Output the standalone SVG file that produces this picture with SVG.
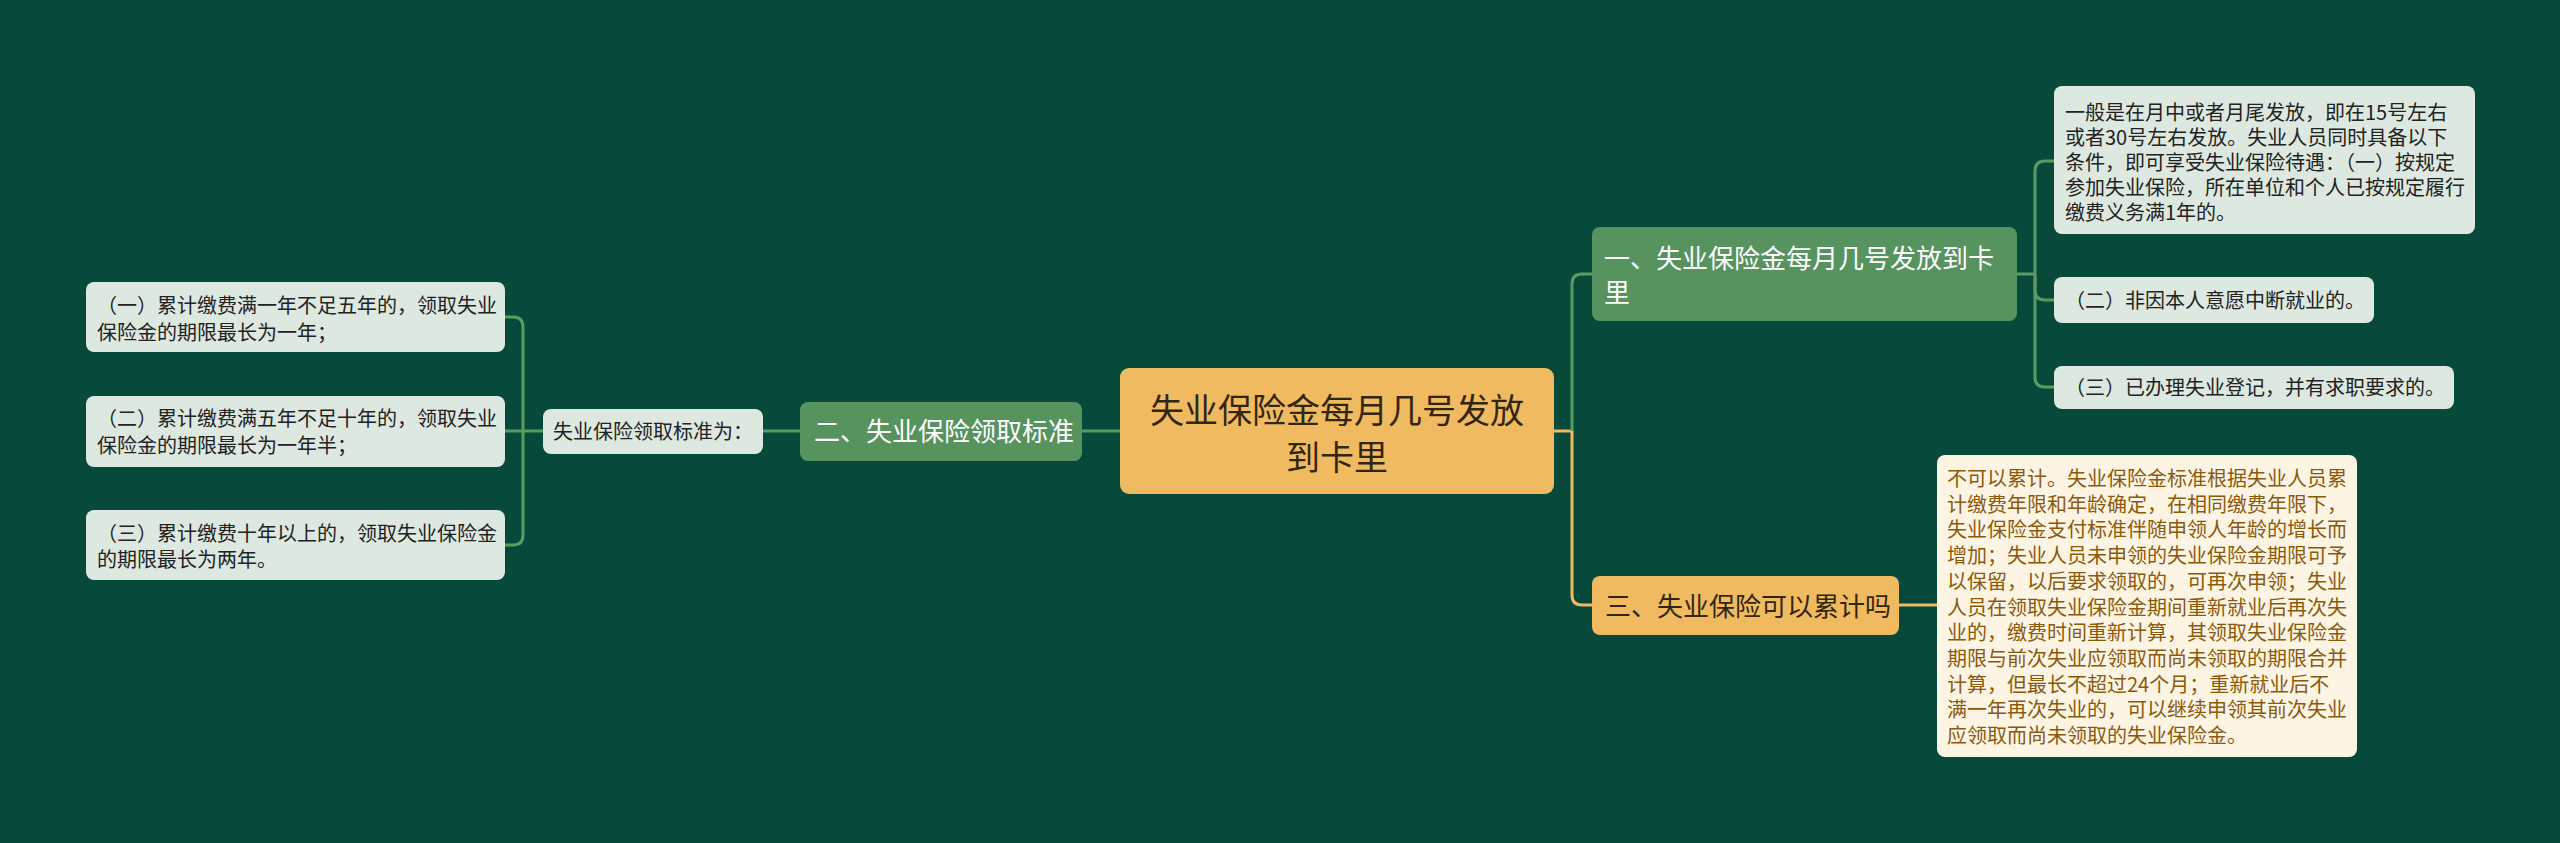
<svg xmlns="http://www.w3.org/2000/svg" width="2560" height="843" viewBox="0 0 2560 843">
<style>
text{font-family:"Noto Sans CJK SC","Noto Sans",sans-serif;}
.g{fill:none;stroke:#5A9A63;stroke-width:3;}
.y{fill:none;stroke:#F0BA61;stroke-width:3;}
.root{fill:#F0BA61;}
.gn{fill:#57935F;}
.yn{fill:#F0BA61;}
.lf{fill:#DDE9E0;}
.cr{fill:#FEF4E4;}
.tr{font-size:34px;fill:#33260f;text-anchor:middle;}
.tg{font-size:26px;fill:#ffffff;}
.ty{font-size:26px;fill:#33260f;}
.tl{font-size:20px;fill:#222222;}
.tc{font-size:20px;fill:#8A5A0C;}
</style>
<rect width="2560" height="843" fill="#07493A"/>
<g id="connectors">
<path class="y" d="M1554 431 H1572 V595 Q1572 605 1582 605 H1592"/>
<path class="g" d="M1572 431 V284 Q1572 274 1582 274 H1592"/>
<path class="y" d="M1899 605 H1937"/>
<path class="g" d="M2017 274 H2035"/>
<path class="g" d="M2035 274 V171 Q2035 161 2045 161 H2054"/>
<path class="g" d="M2035 274 V290 Q2035 300 2045 300 H2054"/>
<path class="g" d="M2035 274 V377 Q2035 387 2045 387 H2054"/>
<path class="g" d="M1120 431 H1082"/>
<path class="g" d="M800 431 H763"/>
<path class="g" d="M543 431 H505"/>
<path class="g" d="M523 431 V327 Q523 317 513 317 H505"/>
<path class="g" d="M523 431 V535 Q523 545 513 545 H505"/>
</g>
<g id="root">
<rect class="root" x="1120" y="368" width="434" height="126" rx="9"/>
<text class="tr" x="1337" y="423">失业保险金每月几号发放</text>
<text class="tr" x="1337" y="470">到卡里</text>
</g>
<g id="n1">
<rect class="gn" x="1592" y="227" width="425" height="94" rx="8"/>
<text class="tg" x="1604" y="268">一、失业保险金每月几号发放到卡</text>
<text class="tg" x="1604" y="302">里</text>
</g>
<g id="n1a">
<rect class="lf" x="2054" y="86" width="421" height="148" rx="8"/>
<text class="tl" x="2065" y="120">一般是在月中或者月尾发放，即在15号左右</text>
<text class="tl" x="2065" y="145">或者30号左右发放。失业人员同时具备以下</text>
<text class="tl" x="2065" y="170">条件，即可享受失业保险待遇：（一）按规定</text>
<text class="tl" x="2065" y="195">参加失业保险，所在单位和个人已按规定履行</text>
<text class="tl" x="2065" y="220">缴费义务满1年的。</text>
</g>
<g id="n1b">
<rect class="lf" x="2054" y="277" width="320" height="46" rx="8"/>
<text class="tl" x="2065" y="308">（二）非因本人意愿中断就业的。</text>
</g>
<g id="n1c">
<rect class="lf" x="2054" y="366" width="400" height="43" rx="8"/>
<text class="tl" x="2065" y="395">（三）已办理失业登记，并有求职要求的。</text>
</g>
<g id="n3">
<rect class="yn" x="1592" y="576" width="307" height="59" rx="8"/>
<text class="ty" x="1605" y="616">三、失业保险可以累计吗</text>
</g>
<g id="n3a">
<rect class="cr" x="1937" y="455" width="420" height="302" rx="8"/>
<text class="tc" x="1947" y="486">不可以累计。失业保险金标准根据失业人员累</text>
<text class="tc" x="1947" y="511.7">计缴费年限和年龄确定，在相同缴费年限下，</text>
<text class="tc" x="1947" y="537.4">失业保险金支付标准伴随申领人年龄的增长而</text>
<text class="tc" x="1947" y="563.1">增加；失业人员未申领的失业保险金期限可予</text>
<text class="tc" x="1947" y="588.8">以保留，以后要求领取的，可再次申领；失业</text>
<text class="tc" x="1947" y="614.5">人员在领取失业保险金期间重新就业后再次失</text>
<text class="tc" x="1947" y="640.2">业的，缴费时间重新计算，其领取失业保险金</text>
<text class="tc" x="1947" y="665.9">期限与前次失业应领取而尚未领取的期限合并</text>
<text class="tc" x="1947" y="691.6">计算，但最长不超过24个月；重新就业后不</text>
<text class="tc" x="1947" y="717.3">满一年再次失业的，可以继续申领其前次失业</text>
<text class="tc" x="1947" y="743">应领取而尚未领取的失业保险金。</text>
</g>
<g id="n2">
<rect class="gn" x="800" y="402" width="282" height="59" rx="8"/>
<text class="tg" x="814" y="441">二、失业保险领取标准</text>
</g>
<g id="n2a">
<rect class="lf" x="543" y="409" width="220" height="45" rx="8"/>
<text class="tl" x="553" y="439">失业保险领取标准为：</text>
</g>
<g id="n2a1">
<rect class="lf" x="86" y="282" width="419" height="70" rx="8"/>
<text class="tl" x="97" y="313">（一）累计缴费满一年不足五年的，领取失业</text>
<text class="tl" x="97" y="340">保险金的期限最长为一年；</text>
</g>
<g id="n2a2">
<rect class="lf" x="86" y="396" width="419" height="71" rx="8"/>
<text class="tl" x="97" y="426">（二）累计缴费满五年不足十年的，领取失业</text>
<text class="tl" x="97" y="453">保险金的期限最长为一年半；</text>
</g>
<g id="n2a3">
<rect class="lf" x="86" y="510" width="419" height="70" rx="8"/>
<text class="tl" x="97" y="541">（三）累计缴费十年以上的，领取失业保险金</text>
<text class="tl" x="97" y="567">的期限最长为两年。</text>
</g>
</svg>
